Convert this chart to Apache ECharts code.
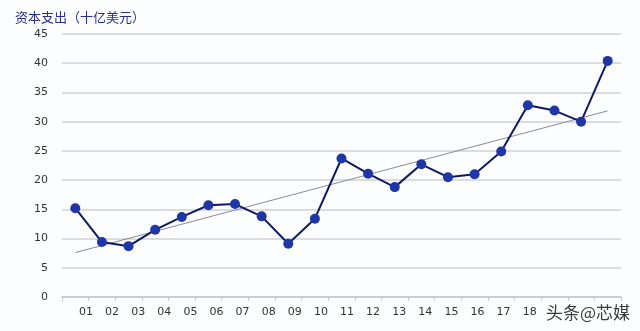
<!DOCTYPE html>
<html><head><meta charset="utf-8">
<script src="https://cdn.jsdelivr.net/npm/echarts@6/dist/echarts.min.js"></script>
<style>html,body{margin:0;padding:0;background:#fcfdfe;}#c{width:640px;height:331px;}</style>
</head><body><div id="c"></div>
<script>
const title = '资本支出（十亿美元）';
const categories = ['01','02','03','04','05','06','07','08','09','10','11','12','13','14','15','16','17','18','19','20','21'];
const tickLabels = ['01','02','03','04','05','06','07','08','09','10','11','12','13','14','15','16','17','18','','',''];
const capex = [15.2, 9.4, 8.7, 11.5, 13.7, 15.7, 15.9, 13.8, 9.1, 13.4, 23.7, 21.1, 18.8, 22.7, 20.5, 21.0, 24.9, 32.8, 31.9, 30.0, 40.4];
const trendEnds = [7.6, 31.85];
const watermark = '头条@芯媒';

const trendData = categories.map((c, i) => i === 0 ? trendEnds[0] : (i === categories.length - 1 ? trendEnds[1] : null));

const chart = echarts.init(document.getElementById('c'));
chart.setOption({
  backgroundColor: '#fcfdfe',
  animation: false,
  title: { text: title, left: 10, top: 6, textStyle: { fontFamily: 'Noto Sans CJK SC', fontSize: 13, fontWeight: 'normal', color: '#2b2f8c' } },
  grid: [
    { left: 62, right: 19, top: 34, bottom: 34 },
    { left: 86, right: 32, top: 34, bottom: 34 }
  ],
  xAxis: [
    { type: 'category', gridIndex: 0, data: categories, boundaryGap: true,
      axisLine: { lineStyle: { color: '#c4c6cc', width: 1.5 } },
      axisTick: { show: true, interval: 0, length: 4, lineStyle: { color: '#c4c6cc' } },
      axisLabel: { show: false } },
    { type: 'category', gridIndex: 1, data: tickLabels, boundaryGap: false,
      axisLine: { show: false }, axisTick: { show: false },
      axisLabel: { interval: 0, margin: 10, color: '#333', fontFamily: 'DejaVu Sans', fontSize: 11 } }
  ],
  yAxis: [
    { type: 'value', gridIndex: 0, min: 0, max: 45, interval: 5,
      axisLine: { show: false }, axisTick: { show: false },
      axisLabel: { margin: 14, color: '#333', fontFamily: 'DejaVu Sans', fontSize: 11 },
      splitLine: { lineStyle: { color: '#cfd1d6', width: 1.5 } } },
    { type: 'value', gridIndex: 1, min: 0, max: 45, show: false, splitLine: { show: false } }
  ],
  series: [
    { type: 'line', xAxisIndex: 0, yAxisIndex: 0, data: trendData, connectNulls: true,
      symbol: 'none', lineStyle: { color: '#8a8c92', width: 1 }, z: 2 },
    { type: 'line', xAxisIndex: 0, yAxisIndex: 0, data: capex,
      symbol: 'circle', symbolSize: 10,
      lineStyle: { color: '#101a5e', width: 2 },
      itemStyle: { color: '#2136a6' }, z: 3 }
  ],
  graphic: [
    { type: 'text', right: 10, bottom: 10, style: { text: watermark, fill: '#3a3a3a', font: '17px "Noto Sans CJK SC"' } }
  ]
});
</script></body></html>
